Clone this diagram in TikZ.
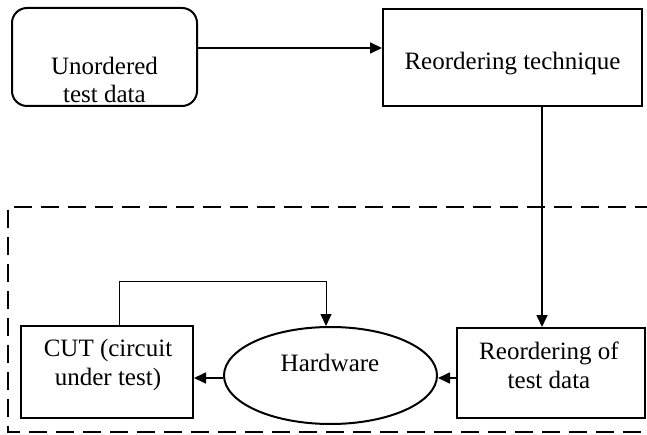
\documentclass[tikz,border=0pt]{standalone}
\usepackage{fontspec}
\setmainfont{Liberation Serif}
\usetikzlibrary{arrows.meta,positioning,shapes.geometric}

\tikzset{
  blockbox/.style={draw, line width=2pt, inner sep=0pt},
  flowarrow/.style={line width=1.7pt, -{Triangle[length=12pt,width=11pt]}},
  blocktext/.style={align=center, inner sep=0pt, font=\fontsize{25}{28.5}\selectfont}
}

\begin{document}
\begin{tikzpicture}[x=1pt,y=-1pt]
    \useasboundingbox (0,0) rectangle (647,435);
    % Dashed frame round the hardware part
    \draw[line width=2pt, dash pattern=on 18pt off 9pt] (680,207) -- (8,207) -- (8,432) -- (680,432);
    % Upper row
    \node[blockbox, rounded corners=15pt, minimum width=185pt, minimum height=98pt] (unord) at (104.5,57) {};
    \node[blocktext] at (104.5,80) {Unordered\\test data};
    \node[blockbox, minimum width=259pt, minimum height=97pt] (tech) at (512.5,57.5) {};
    \node[blocktext] at (512.5,64) {Reordering technique};
    % Lower row
    \node[blockbox, minimum width=172pt, minimum height=92pt] (cut) at (107,372) {};
    \node[blocktext] at (108,365) {CUT (circuit\\under test)};
    \node[blockbox, ellipse, minimum width=213pt, minimum height=97pt] (hw) at (330.5,375.5) {};
    \node[blocktext] at (330,362.5) {Hardware};
    \node[blockbox, minimum width=188pt, minimum height=90pt] (reord) at (551,373) {};
    \node[blocktext] at (549,365.5) {Reordering of\\test data};
    % Connectors
    \draw[flowarrow] (unord.east |- 0,48) -- (tech.west |- 0,48);
    \draw[flowarrow] (542,0 |- tech.south) -- (542,0 |- reord.north);
    \draw[flowarrow] (reord.west |- 0,378) -- (hw.east |- 0,378);
    \draw[flowarrow] (hw.west |- 0,378) -- (cut.east |- 0,378);
    % Feedback from the CUT
    \coordinate (fbtop) at (326,281);
    \draw[line width=0.9pt, -{Triangle[length=12pt,width=11pt]}] ([xshift=12pt]cut.north) |- (fbtop) -- ([xshift=-4.5pt]hw.north);
\end{tikzpicture}
\end{document}
